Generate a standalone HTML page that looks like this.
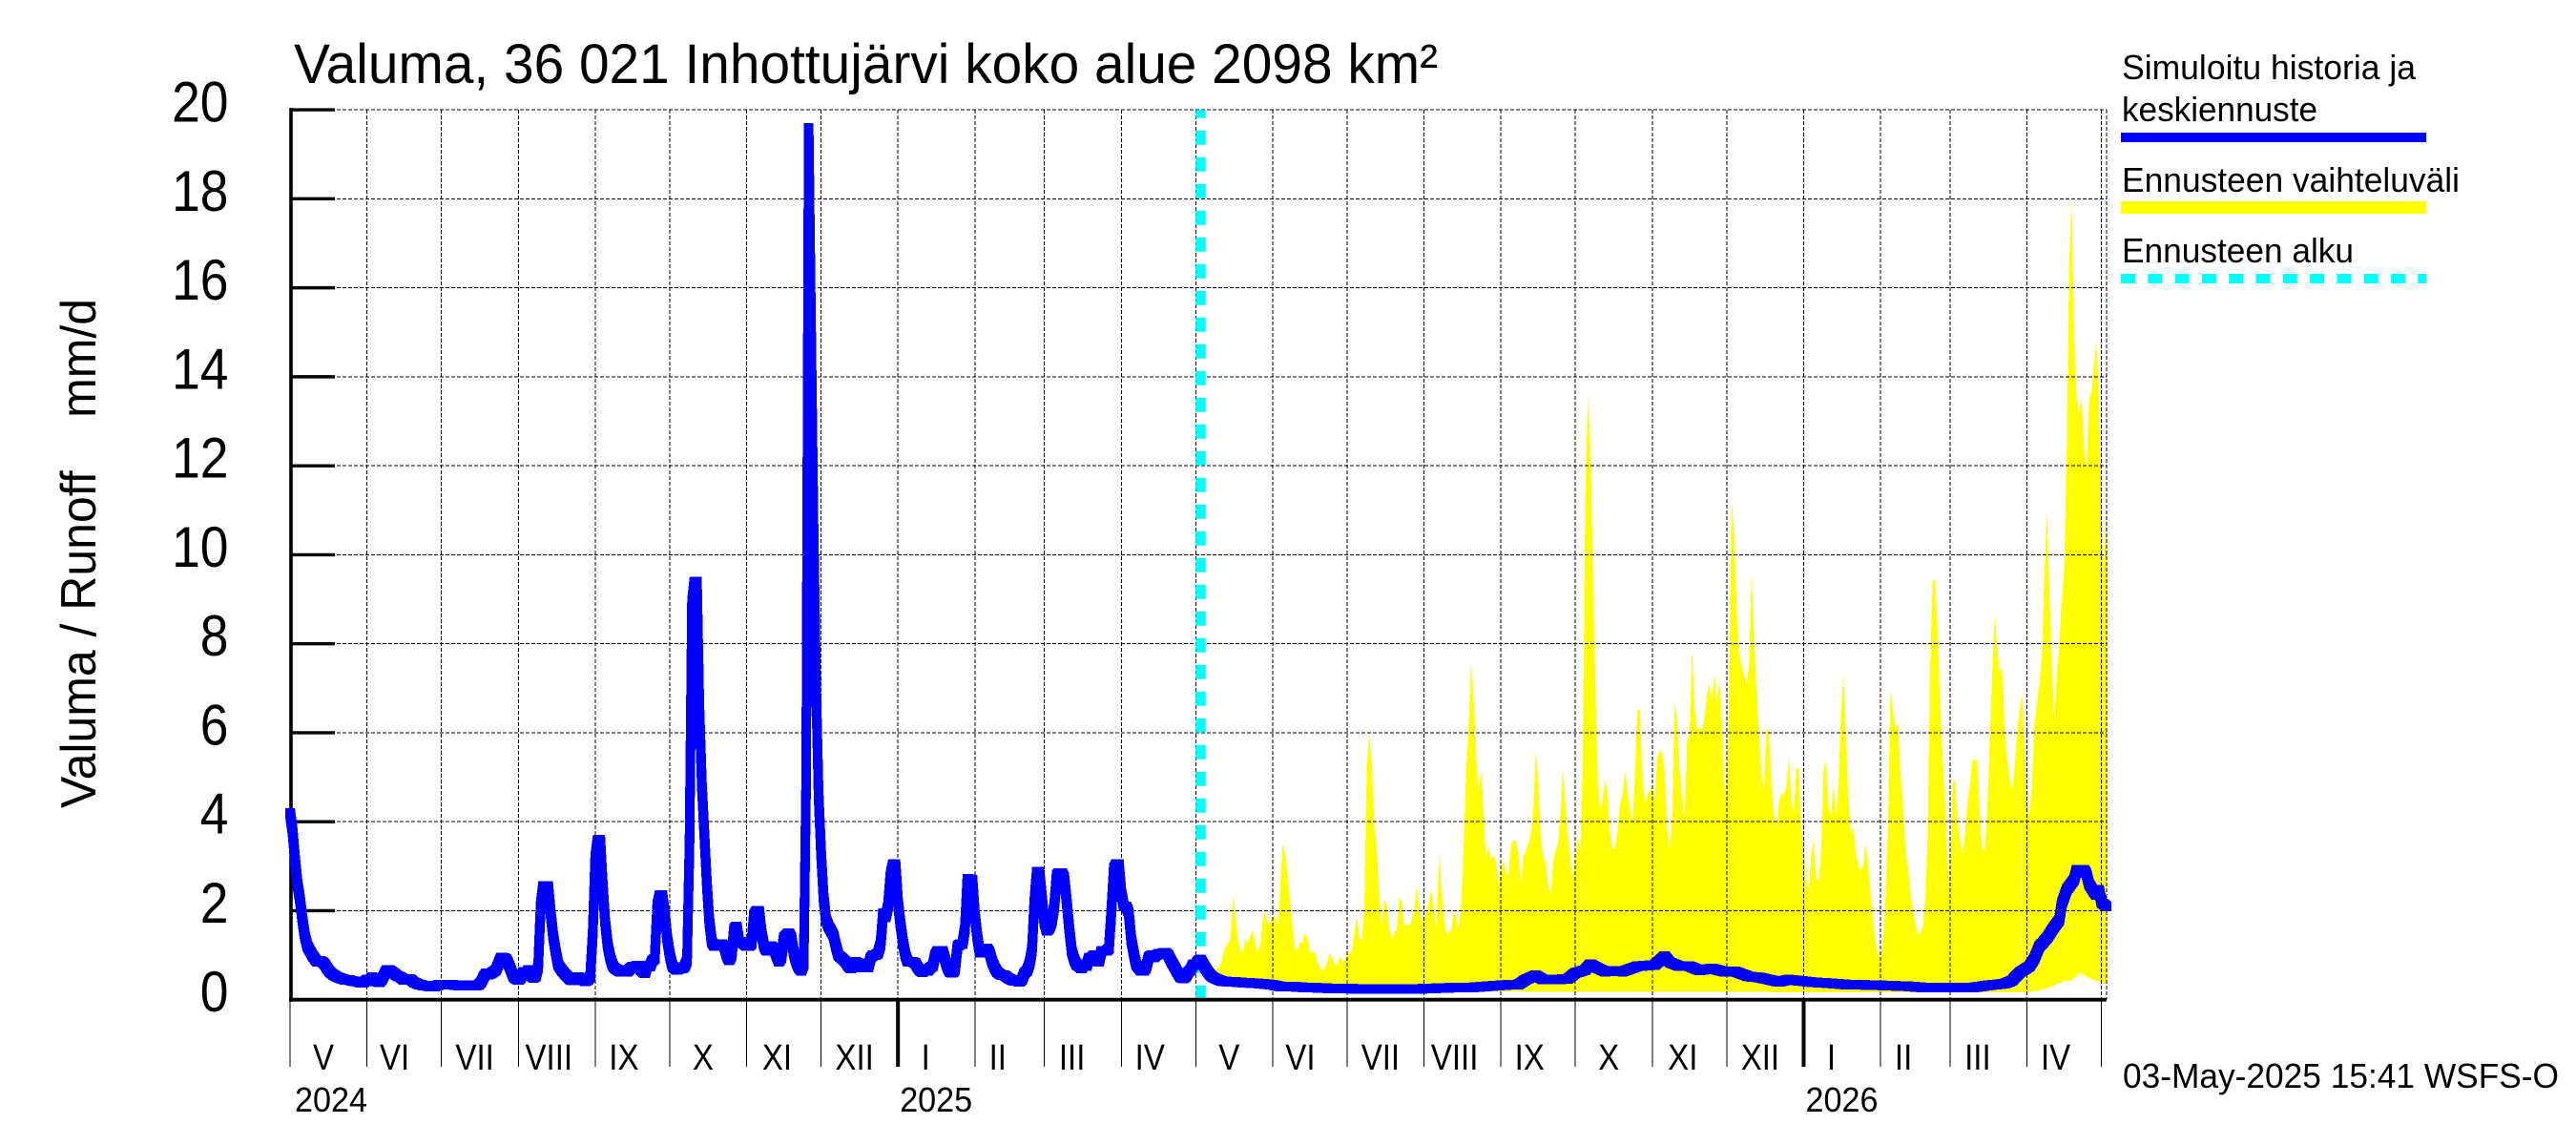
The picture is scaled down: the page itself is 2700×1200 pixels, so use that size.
<!DOCTYPE html>
<html lang="fi">
<head>
<meta charset="utf-8">
<title>Valuma, 36 021 Inhottujärvi koko alue 2098 km²</title>
<style>
html,body{margin:0;padding:0;background:#fff;}
svg{display:block;}
text{font-family:"Liberation Sans",Arial,sans-serif;fill:#000;white-space:pre;}
</style>
</head>
<body>
<svg id="chart" xmlns="http://www.w3.org/2000/svg" width="2700" height="1200" viewBox="0 0 2700 1200">
  <rect x="0" y="0" width="2700" height="1200" fill="#fff"/>
  <g id="band-layer"></g>
  <g id="grid-layer"></g>
  <g id="start-layer"></g>
  <g id="axis-layer"></g>
  <g id="line-layer"></g>

  <text x="308" y="87" font-size="58" textLength="1199" lengthAdjust="spacingAndGlyphs">Valuma, 36 021 Inhottujärvi koko alue 2098 km²</text>
  <text transform="translate(100,847) rotate(-90)" font-size="52" textLength="534" lengthAdjust="spacingAndGlyphs">Valuma / Runoff    mm/d</text>

  <g>
    <text x="2224" y="83" font-size="36" textLength="308" lengthAdjust="spacingAndGlyphs">Simuloitu historia ja</text>
    <text x="2224" y="127" font-size="36" textLength="205" lengthAdjust="spacingAndGlyphs">keskiennuste</text>
    <rect x="2223" y="139" width="320" height="10" fill="#0000ff"/>
    <text x="2224" y="201" font-size="36" textLength="354" lengthAdjust="spacingAndGlyphs">Ennusteen vaihteluväli</text>
    <rect x="2223" y="211" width="320" height="13" fill="#ffff00"/>
    <text x="2224" y="275" font-size="36" textLength="243" lengthAdjust="spacingAndGlyphs">Ennusteen alku</text>
    <line x1="2223" y1="292" x2="2543" y2="292" stroke="#00ffff" stroke-width="10" stroke-dasharray="15 13.3"/>
  </g>

  <text x="2225" y="1140" font-size="36" textLength="457" lengthAdjust="spacingAndGlyphs">03-May-2025 15:41 WSFS-O</text>
</svg>

<script>
// ---- chart data (runoff in mm/d, days counted from 1 May 2024) ----
const yTicks = [0, 2, 4, 6, 8, 10, 12, 14, 16, 18, 20];
const monthLabels = ["V","VI","VII","VIII","IX","X","XI","XII","I","II","III","IV","V","VI","VII","VIII","IX","X","XI","XII","I","II","III","IV"];
const monthLengths = [31,30,31,31,30,31,30,31,31,28,31,30,31,30,31,31,30,31,30,31,31,28,31,30];
const yearLabels = ["2024", "2025", "2026"];
const yearStartDays = [0, 245, 610];
const lastDay = 732;
const forecastStartDay = 367;

// daily simulated history, day 0 onward
const historyRunoff = [
4.2,3.8,3.15,2.6,2.25,1.8,1.42,1.2,1.1,1.0,.92,.85,.87,.85,.8,.7,.63,.58,.54,.51,
.49,.47,.45,.44,.44,.42,.41,.41,.39,.38,.39,.45,.41,.51,.45,.41,.39,.45,.56,.67,
.67,.63,.59,.54,.52,.49,.44,.45,.47,.44,.39,.37,.34,.33,.31,.31,.3,.29,.29,.31,
.33,.34,.34,.34,.34,.34,.33,.33,.32,.32,.32,.32,.33,.33,.32,.32,.33,.39,.51,.59,
.56,.59,.63,.67,.81,.95,.94,.92,.81,.67,.52,.47,.44,.49,.63,.56,.67,.56,.49,.52,
.74,2.1,2.56,2.56,2.56,1.95,1.45,1.1,.8,.7,.63,.56,.51,.45,.43,.44,.51,.49,.45,.41,
.44,.52,1.5,3.17,3.6,3.6,2.6,1.74,1.24,.95,.77,.7,.67,.63,.67,.63,.63,.7,.74,.74,
.77,.7,.63,.59,.77,.74,.88,.92,2.1,2.35,2.35,1.95,1.38,1.02,.77,.7,.67,.7,.7,.74,
.88,3.5,8.9,9.4,9.4,6.5,4.8,3.7,2.6,1.75,1.3,1.2,1.25,1.2,1.25,1.2,1.0,.88,1.0,1.6,
1.65,1.3,1.3,1.25,1.2,1.2,1.25,1.9,2.0,2.0,1.5,1.2,1.1,1.1,1.2,1.15,1.0,.85,.95,1.4,
1.45,1.5,1.4,1.05,.85,.72,.65,.8,5.0,19.6,15,10.5,7,4.6,3.3,2.3,1.8,1.65,1.55,1.45,
1.2,1.0,.95,.9,.85,.75,.7,.75,.85,.82,.72,.82,.78,.72,.95,1.0,1.0,1.05,1.25,1.95,
1.85,2.1,2.8,3.05,3.05,2.2,1.7,1.3,1.0,.85,.85,.85,.82,.72,.65,.62,.68,.65,.72,.75,
1.0,1.1,1.05,1.1,.9,.72,.62,.6,.68,1.2,1.25,1.25,1.6,2.72,2.7,2.7,1.9,1.4,1.05,1.05,
1.05,1.15,1.05,.85,.72,.62,.58,.55,.55,.5,.47,.44,.42,.42,.4,.45,.6,.65,.8,1.1,
2.2,2.88,2.88,2.3,1.75,1.55,1.6,1.75,2.1,2.8,2.85,2.85,2.75,2.2,1.6,1.1,.9,.78,.75,.7,
.8,.75,.95,.95,1.0,.88,.85,1.1,1.1,1.1,1.15,2.0,2.95,3.05,3.05,2.4,2.1,2.1,1.95,1.35,
1.05,.78,.72,.65,.65,.72,.95,1.0,.95,1.0,1.03,1.03,1.05,1.05,1.0,.88,.78,.68,.58,.5,
.48,.52,.62,.68,.8,.78,.88,.9,.8,.7,.62,.55
];

// forecast mean, read at irregular days after the history ends
const medianDays = [372,374,376,380,385,390,395,400,405,410,415,420,430,435,450,460,465,475,480,485,490,495,498,502,505,510,515,518,522,524,526,530,535,537,543,550,554,556,560,564,568,573,578,582,588,592,600,604,614,620,627,639,652,659,665,678,684,691,694,697,701,703,705,708,710,713,714,716,719,720,723,724,725,727,728,729,730,732];
const medianValues = [.5,.45,.41,.4,.38,.365,.34,.29,.29,.27,.265,.25,.245,.235,.235,.25,.265,.27,.29,.31,.33,.34,.45,.55,.45,.45,.47,.6,.67,.8,.74,.63,.65,.63,.75,.78,.98,.84,.75,.75,.66,.7,.63,.64,.52,.5,.4,.45,.39,.37,.34,.325,.3,.27,.27,.27,.32,.36,.43,.61,.75,.93,1.2,1.38,1.56,1.79,2.15,2.47,2.7,2.92,2.92,2.83,2.6,2.42,2.35,2.47,2.18,2.1];

// upper edge of forecast range, daily from day 368
const rangeUpperStartDay = 368;
const rangeUpper = [
.75,.75,.75,.72,.7,.68,.72,.78,1.0,1.2,1.25,1.4,2.35,1.9,1.35,1.1,1.08,1.36,1.27,1.45,
1.55,1.27,1.05,1.25,1.8,2.0,1.72,1.72,1.88,1.88,1.65,2.45,3.5,3.3,2.85,2.2,1.7,1.15,1.1,1.3,
1.27,1.5,1.4,1.08,1.06,1.08,.85,.75,.65,.7,.85,1.05,.95,.8,.75,.98,.88,.85,1.0,1.05,
1.1,1.55,1.85,1.4,1.3,2.2,5.3,5.96,5.3,3.9,3.3,2.3,1.65,2.28,2.1,1.6,1.35,1.5,1.6,2.3,
2.2,1.65,1.7,1.65,1.8,2.0,2.6,2.05,1.8,1.8,2.0,2.2,2.47,2.0,1.6,3.3,2.5,1.9,1.45,1.55,
1.55,2.0,1.85,1.6,2.2,3.5,5.2,6.2,7.57,6.8,5.4,4.7,5.2,4.2,3.2,3.44,3.15,3.25,3.1,2.5,
2.9,3.17,2.85,2.8,3.46,3.58,3.58,3.3,2.6,3.2,3.35,3.5,3.7,4.2,5.6,4.9,3.7,3.2,3.1,2.56,
2.35,3.1,3.35,3.5,4.2,5.2,4.4,3.65,3.2,2.7,3.1,3.7,3.3,5.5,11.26,13.55,12.55,10,7.25,4.96,
4.3,4.5,4.95,4.65,3.7,3.4,3.4,3.8,4.4,4.6,5.15,4.7,4.3,3.95,5.05,6.5,6.5,5.05,4.4,4.6,
4.7,4.77,4.45,5.45,5.6,5.55,5.1,3.8,3.4,4.05,6.67,6.3,5.2,4.6,4.05,5.8,6.0,7.9,6.6,6.1,
6.08,6.08,6.35,6.85,7.1,6.75,7.33,6.67,7.2,6.3,4.86,4.4,7.1,11.2,10.5,8.83,7.75,7.5,7.3,7.07,
7.57,9.65,8.1,7.0,5.95,5.1,4.7,6.1,6.05,4.85,4.15,3.85,4.4,4.65,4.6,4.77,5.45,4.5,4.2,5.2,
5.2,3.85,3.5,2.7,2.42,3.25,3.6,2.7,2.7,3.3,5.15,5.4,4.3,4.15,4.85,4.15,4.75,6.4,7.35,5.95,
4.5,3.7,3.9,3.3,3.05,2.9,3.0,3.5,3.05,2.4,1.8,1.3,1.0,.9,1.35,2.3,3.95,7.0,6.5,6.1,
6.2,5.1,4.4,3.4,3.0,2.4,2.05,1.75,1.47,1.5,1.65,2.25,3.7,7.55,9.4,9.45,8.3,6.6,5.5,4.5,
3.05,2.3,4.85,4.95,4.05,3.6,3.3,3.7,4.4,4.8,5.4,5.4,5.35,4.15,3.4,3.35,4.3,5.75,7.4,8.65,
7.9,7.3,7.5,6.05,5.4,4.95,4.7,5.2,6.0,6.5,6.9,5.75,4.5,4.15,4.85,6.2,6.67,7.1,7.75,9.55,
11.0,9.2,7.57,6.25,7.35,8.0,9.0,9.7,12.3,16.6,18.0,14.9,13.5,13.2,13.5,12.4,11.9,13.5,13.65,14.3,
14.8,13.5,11.1,9.7,10.9
];

// lower edge of forecast range, read at irregular days
const rangeLowerDays = [368,372,376,385,400,440,480,500,540,560,600,640,680,700,705,710,715,718,721,724,728,732];
const rangeLowerValues = [.72,.5,.4,.32,.22,.2,.19,.18,.18,.18,.17,.16,.16,.17,.2,.3,.42,.43,.6,.52,.42,.35];

// ---- axis functions ----
const xOrigin = 304, pxPerDay = 2.6008;
const yOrigin = 1047.7, pxPerUnit = 46.63;
function xScale(day) { return xOrigin + day * pxPerDay; }
function yScale(value) { return yOrigin - value * pxPerUnit; }

const NS = "http://www.w3.org/2000/svg";
function make(tag, parent, attrs) {
  const el = document.createElementNS(NS, tag);
  for (const k in attrs) el.setAttribute(k, attrs[k]);
  parent.appendChild(el);
  return el;
}
const bandLayer = document.getElementById("band-layer");
const gridLayer = document.getElementById("grid-layer");
const startLayer = document.getElementById("start-layer");
const axisLayer = document.getElementById("axis-layer");
const lineLayer = document.getElementById("line-layer");
const plotRight = xScale(lastDay);
const GRID_DASH = "4 2";

// forecast range polygon
const bandPoints = [];
rangeUpper.forEach(function (v, i) {
  bandPoints.push(xScale(rangeUpperStartDay + i).toFixed(1) + "," + yScale(v).toFixed(1));
});
for (let i = rangeLowerDays.length - 1; i >= 0; i--) {
  bandPoints.push(xScale(rangeLowerDays[i]).toFixed(1) + "," + yScale(rangeLowerValues[i]).toFixed(1));
}
const band = make("polygon", bandLayer, { points: bandPoints.join(" "), fill: "#ffff00", "shape-rendering": "crispEdges" });



// horizontal grid, y ticks and labels
yTicks.forEach(function (t) {
  const y = yScale(t);
  if (t > 0) {
    const g = make("line", gridLayer, { x1: 305, x2: plotRight, y1: y, y2: y, stroke: "#000", "stroke-width": 1, "stroke-dasharray": GRID_DASH, "shape-rendering": "crispEdges" });
    
    
    const tick = make("line", axisLayer, { x1: 305, x2: 351, y1: y, y2: y, stroke: "#000", "stroke-width": 3.4 });
    
    
  }
  const label = make("text", axisLayer, { transform: "translate(239.5," + (y + 12.5).toFixed(1) + ") scale(0.89,1)", "text-anchor": "end", "font-size": 60 });
  label.textContent = String(t);
  
  
});

// right edge of the plot
const rightEdge = make("line", gridLayer, { x1: plotRight, x2: plotRight, y1: yScale(20), y2: yOrigin, stroke: "#000", "stroke-width": 1, "stroke-dasharray": GRID_DASH, "shape-rendering": "crispEdges" });



// small per-label centring nudges of the original typesetting
const labelNudge = { V: 3, VI: -3, VII: 3, VIII: 0, IX: -2, X: 3, XI: 0, XII: 3, I: -3, II: -8, III: -3, IV: -2 };

// months: vertical grid, ticks, labels
let dayCursor = 0;
monthLabels.forEach(function (name, i) {
  const x = xScale(dayCursor);
  if (i > 0) {
    const g = make("line", gridLayer, { x1: x, x2: x, y1: yScale(20), y2: yOrigin, stroke: "#000", "stroke-width": 1, "stroke-dasharray": GRID_DASH, "shape-rendering": "crispEdges" });
    
    
  }
  const tick = make("line", axisLayer, { x1: x, x2: x, y1: yOrigin, y2: 1118, stroke: "#000", "stroke-width": 1, "shape-rendering": "crispEdges" });
  
  
  const label = make("text", axisLayer, { transform: "translate(" + (x + 32 + labelNudge[name]).toFixed(1) + ",1121) scale(0.87,1)", "text-anchor": "middle", "font-size": 38 });
  label.textContent = name;
  
  
  dayCursor += monthLengths[i];
});
const finalTick = make("line", axisLayer, { x1: xScale(dayCursor), x2: xScale(dayCursor), y1: yOrigin, y2: 1118, stroke: "#000", "stroke-width": 1, "shape-rendering": "crispEdges" });


const finalGrid = make("line", gridLayer, { x1: xScale(dayCursor), x2: xScale(dayCursor), y1: yScale(20), y2: yOrigin, stroke: "#000", "stroke-width": 1, "stroke-dasharray": GRID_DASH, "shape-rendering": "crispEdges" });



// year ticks and labels
yearLabels.forEach(function (name, i) {
  const x = xScale(yearStartDays[i]);
  if (i > 0) {
    const tick = make("line", axisLayer, { x1: x, x2: x, y1: yOrigin, y2: 1118, stroke: "#000", "stroke-width": 4 });
    
    
  }
  const label = make("text", axisLayer, { x: (x + (i > 0 ? 2 : 5)).toFixed(1), y: 1165, "font-size": 36, textLength: 76, lengthAdjust: "spacingAndGlyphs" });
  label.textContent = name;
  
  
});

// axis spines
const ySpine = make("line", axisLayer, { x1: 305, x2: 305, y1: yScale(20) - 2, y2: yOrigin + 2, stroke: "#000", "stroke-width": 3.6 });


const xSpine = make("line", axisLayer, { x1: 303, x2: plotRight, y1: yOrigin, y2: yOrigin, stroke: "#000", "stroke-width": 3.8 });



// forecast start marker (dashes anchored at the bottom)
const startLine = make("line", startLayer, { x1: xScale(forecastStartDay), x2: xScale(forecastStartDay), y1: yOrigin, y2: yScale(20), stroke: "#00ffff", "stroke-width": 10.5, "stroke-dasharray": "15 13" });



// runoff line: history followed by forecast mean, drawn with a 10px square pen
const lineCoords = [];
historyRunoff.forEach(function (v, i) {
  lineCoords.push([xScale(i), yScale(v)]);
});
medianDays.forEach(function (d, i) {
  lineCoords.push([xScale(d), yScale(medianValues[i])]);
});
const PEN = 5;
let penPath = "";
for (let i = 0; i < lineCoords.length - 1; i++) {
  let a = lineCoords[i], b = lineCoords[i + 1];
  let corners;
  if (b[1] >= a[1]) {
    corners = [[a[0]-PEN,a[1]-PEN],[a[0]+PEN,a[1]-PEN],[b[0]+PEN,b[1]-PEN],[b[0]+PEN,b[1]+PEN],[b[0]-PEN,b[1]+PEN],[a[0]-PEN,a[1]+PEN]];
  } else {
    corners = [[a[0]-PEN,a[1]-PEN],[b[0]-PEN,b[1]-PEN],[b[0]+PEN,b[1]-PEN],[b[0]+PEN,b[1]+PEN],[a[0]+PEN,a[1]+PEN],[a[0]-PEN,a[1]+PEN]];
  }
  penPath += "M" + corners.map(function (c) { return c[0].toFixed(1) + " " + c[1].toFixed(1); }).join("L") + "Z";
}
const runoffLine = make("path", lineLayer, { d: penPath, fill: "#0000ff", "shape-rendering": "crispEdges" });


</script>
</body>
</html>
